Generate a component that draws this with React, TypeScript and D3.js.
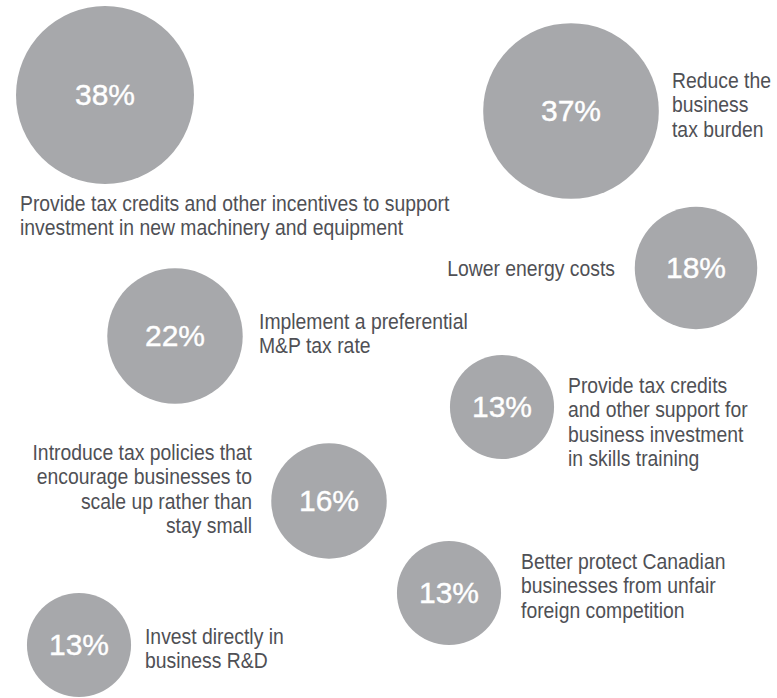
import * as d3 from 'd3';
import React, { useRef, useEffect } from 'react';

// survey answers, share of respondents (%)
const values = [38, 37, 18, 22, 13, 16, 13, 13];
const labels = [
  ['Provide tax credits and other incentives to support', 'investment in new machinery and equipment'],
  ['Reduce the', 'business', 'tax burden'],
  ['Lower energy costs'],
  ['Implement a preferential', 'M&P tax rate'],
  ['Provide tax credits', 'and other support for', 'business investment', 'in skills training'],
  ['Introduce tax policies that', 'encourage businesses to', 'scale up rather than', 'stay small'],
  ['Better protect Canadian', 'businesses from unfair', 'foreign competition'],
  ['Invest directly in', 'business R&D'],
];

// hand layout of the bubbles and where each caption sits
const centers = [
  [105, 95], [571, 111], [696, 268], [175, 336],
  [502, 407], [329, 501], [449, 593], [79, 645],
];
const captionPos = [
  [20, 205, 'start'], [672, 82, 'start'], [615, 270, 'end'], [259, 323, 'start'],
  [568, 387, 'start'], [252, 454, 'end'], [521, 563, 'start'], [145, 638, 'start'],
];

function BubbleChart() {
  const svgWidth = 777;
  const svgHeight = 698;
  const lineHeight = 24.5;
  const narrow = 0.88; // squeeze Liberation Sans into a condensed look
  const svgRef = useRef(null);

  useEffect(() => {
    const svg = d3.select(svgRef.current);
    const rScale = d3.scaleSqrt().domain([0, 38]).range([0, 89]);

    const rows = values.map((v, i) => ({ v, i, lines: labels[i] }));

    const g = svg
      .selectAll('.bubble')
      .data(rows)
      .join('g')
      .attr('class', 'bubble');

    g.append('circle')
      .attr('cx', (d) => centers[d.i][0])
      .attr('cy', (d) => centers[d.i][1])
      .attr('r', (d) => rScale(d.v))
      .attr('fill', '#a7a8ab');

    g.append('text')
      .attr('x', (d) => centers[d.i][0])
      .attr('y', (d) => centers[d.i][1] + 2)
      .attr('text-anchor', 'middle')
      .attr('dominant-baseline', 'middle')
      .attr('fill', '#ffffff')
      .attr('stroke', '#ffffff')
      .attr('stroke-width', 0.4)
      .style('font-family', '"Liberation Sans", Arial, sans-serif')
      .style('font-size', '30px')
      .text((d) => d.v + '%');

    const cap = g
      .append('text')
      .attr('text-anchor', (d) => captionPos[d.i][2])
      .attr('transform', (d) => {
        const x = captionPos[d.i][0];
        return `translate(${x},0) scale(${narrow},1) translate(${-x},0)`;
      })
      .attr('fill', '#4f5055')
      .style('font-family', '"Liberation Sans", Arial, sans-serif')
      .style('font-size', '22px');

    cap
      .selectAll('tspan')
      .data((d) => d.lines.map((t, k) => ({ t, k, i: d.i })))
      .join('tspan')
      .attr('x', (d) => captionPos[d.i][0])
      .attr('y', (d) => captionPos[d.i][1] + d.k * lineHeight)
      .attr('dominant-baseline', 'middle')
      .text((d) => d.t);
  }, []);

  return (
    <svg
      width={svgWidth}
      height={svgHeight}
      ref={svgRef}
      style={{ position: 'absolute', left: 0, top: 0, background: '#fff' }}
    />
  );
}

export default function App() {
  return <BubbleChart />;
}
